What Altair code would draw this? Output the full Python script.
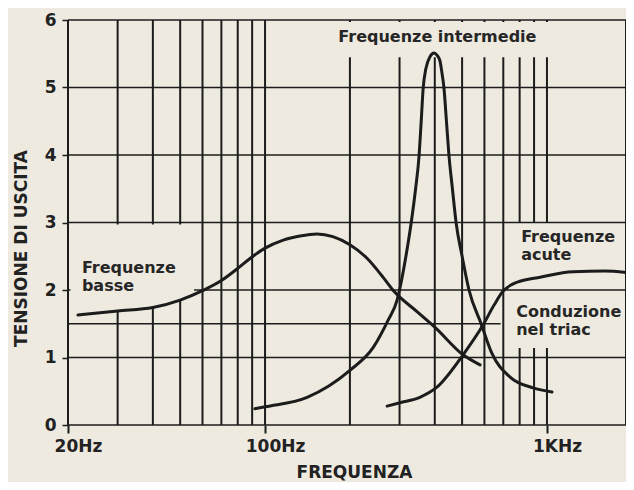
import altair as alt
import pandas as pd

# ---------------- data ----------------
# "Frequenze basse"
low_freq = [21.7, 30, 40, 50, 60, 70, 80, 88, 100, 116, 133, 153, 174, 200, 230, 262, 284, 346, 400, 504, 579]
low_val = [1.63, 1.69, 1.74, 1.85, 1.99, 2.14, 2.32, 2.46, 2.62, 2.74, 2.80, 2.83, 2.79, 2.67, 2.47, 2.19, 2.00,
           1.68, 1.45, 1.04, 0.89]

# "Frequenze intermedie"
mid_freq = [92, 100, 141, 200, 242, 273, 294, 301, 316, 330, 342, 352, 358, 364, 372, 385, 398,
            407, 417, 424, 431, 440, 449, 462, 476, 500, 529, 584, 638, 740, 892, 1042]
mid_val = [0.24, 0.27, 0.41, 0.81, 1.15, 1.55, 1.85, 2.03, 2.50, 3.00, 3.50, 4.00, 4.50, 5.00, 5.28, 5.46, 5.51,
           5.48, 5.40, 5.22, 5.00, 4.50, 4.00, 3.50, 3.00, 2.50, 2.00, 1.50, 1.06, 0.71, 0.55, 0.49]

# "Frequenze acute"
high_freq = [271, 301, 354, 407, 504, 593, 650, 698, 750, 802, 945, 1237, 1600, 1907]
high_val = [0.28, 0.33, 0.41, 0.56, 1.04, 1.48, 1.78, 1.98, 2.08, 2.13, 2.19, 2.27, 2.28, 2.26]

# "Conduzione nel triac" level
triac_level = [1.5]
triac_span = [20, 685]

# grid
x_max = 1907
v_grid = [20, 30, 40, 50, 60, 70, 80, 90, 100, 200, 300, 400, 500, 600, 700, 800, 900, 1000, x_max]
h_grid = [0, 1, 2, 3, 4, 5, 6]
x_tick_vals = [20, 100, 1000]
x_tick_text = ["20Hz", "100Hz", "1KHz"]
y_tick_vals = [0, 1, 2, 3, 4, 5, 6]

# label texts
labels_text = ["Frequenze intermedie", "Frequenze\nbasse", "Frequenze\nacute", "Conduzione\nnel triac"]
labels_freq = [182, 22.4, 810, 778]
labels_val = [5.67, 2.25, 2.71, 1.60]

# blank patches behind labels (where the drawing's grid is interrupted)
patch_f1 = [150, 760]
patch_f2 = [1300, 1850]
patch_v1 = [5.45, 1.14]
patch_v2 = [5.97, 3.0]
left_patch_freq = [20.4, 21.7, 30, 40, 50, 56]
left_patch_floor = [1.63, 1.63, 1.69, 1.74, 1.85, 1.92]

# ---------------- styling ----------------
BG = "#eeeae0"
INK = "#1c1c1c"
FONT = "DejaVu Sans"

xscale = alt.Scale(type="log", domain=[20, x_max], nice=False)
yscale = alt.Scale(domain=[0, 6], nice=False, zero=False)

label_expr = " : ".join(
    f"datum.value == {v} ? '{t}'" for v, t in zip(x_tick_vals[:-1], x_tick_text[:-1])
) + f" : '{x_tick_text[-1]}'"

xaxis = alt.Axis(values=x_tick_vals, labelExpr=label_expr, grid=False, domain=False,
                 ticks=True, tickSize=8, tickWidth=2, tickColor=INK,
                 labelFont=FONT, labelFontWeight="bold", labelFontSize=17, labelColor="#222",
                 labelPadding=5, labelOffset=10, labelFlush=False,
                 title="FREQUENZA", titleFont=FONT, titleFontWeight="bold", titleFontSize=17,
                 titleColor="#222", titleX=286, titleY=52, titleBaseline="alphabetic")
yaxis = alt.Axis(values=y_tick_vals, grid=False, domain=False, ticks=True, tickSize=6,
                 tickWidth=1.5, tickColor=INK,
                 labelFont=FONT, labelFontWeight="bold", labelFontSize=17, labelColor="#222",
                 labelPadding=6, labelFlush=False,
                 title="TENSIONE DI USCITA", titleFont=FONT, titleFontWeight="bold",
                 titleFontSize=17, titleColor="#222", titleX=-47, titleY=228,
                 titleBaseline="middle", titleAngle=270)


def X(field):
    return alt.X(field, type="quantitative", scale=xscale, axis=xaxis)


def Y(field):
    return alt.Y(field, type="quantitative", scale=yscale, axis=yaxis)


# ---------------- tables ----------------
curves = pd.concat([
    pd.DataFrame({"serie": "basse", "freq": low_freq, "val": low_val}),
    pd.DataFrame({"serie": "intermedie", "freq": mid_freq, "val": mid_val}),
    pd.DataFrame({"serie": "acute", "freq": high_freq, "val": high_val}),
])
vdf = pd.DataFrame({"freq": v_grid, "v0": 0, "v1": 6})
hdf = pd.DataFrame({"lvl": h_grid, "f0": 20, "f1": x_max})
tdf = pd.DataFrame({"lvl": triac_level, "f0": triac_span[0], "f1": triac_span[1]})
pdf = pd.DataFrame({"f1": patch_f1, "f2": patch_f2, "v1": patch_v1, "v2": patch_v2})
ldf = pd.DataFrame({"freq": left_patch_freq, "floor": left_patch_floor, "top": 2.97})
txt = pd.DataFrame({"freq": labels_freq, "val": labels_val, "label": labels_text})

# ---------------- layers ----------------
vrules = alt.Chart(vdf).mark_rule(color=INK, strokeWidth=2).encode(
    x=X("freq"), y=Y("v0"), y2="v1")

patches = alt.Chart(pdf).mark_rect(fill=BG).encode(
    x=X("f1"), x2="f2", y=Y("v1"), y2="v2")

hrules = alt.Chart(hdf).mark_rule(color=INK, strokeWidth=1.6).encode(
    y=Y("lvl"), x=X("f0"), x2="f1")

triac = alt.Chart(tdf).mark_rule(color=INK, strokeWidth=1.6).encode(
    y=Y("lvl"), x=X("f0"), x2="f1")

left_patch = alt.Chart(ldf).mark_area(fill=BG, interpolate="monotone", opacity=1).encode(
    x=X("freq"), y=Y("floor"), y2="top")

lines = alt.Chart(curves).mark_line(color=INK, strokeWidth=3, interpolate="monotone",
                                     strokeCap="round").encode(
    x=X("freq"), y=Y("val"), detail="serie:N", order="freq:Q")

texts = alt.Chart(txt).mark_text(align="left", baseline="alphabetic", font=FONT,
                                 fontWeight="bold", fontSize=16, color="#262626",
                                 lineBreak="\n", lineHeight=17.5).encode(
    x=X("freq"), y=Y("val"), text="label:N")

chart = alt.layer(vrules, patches, hrules, triac, left_patch, lines, texts).properties(
    width=558, height=405,
    autosize=alt.AutoSizeParams(type="none"),
    padding={"left": 60, "top": 12, "right": 0, "bottom": 57},
    background=BG,
).configure_view(stroke=None)

chart.save("out.html", embed_options={"renderer": "svg", "actions": False})
